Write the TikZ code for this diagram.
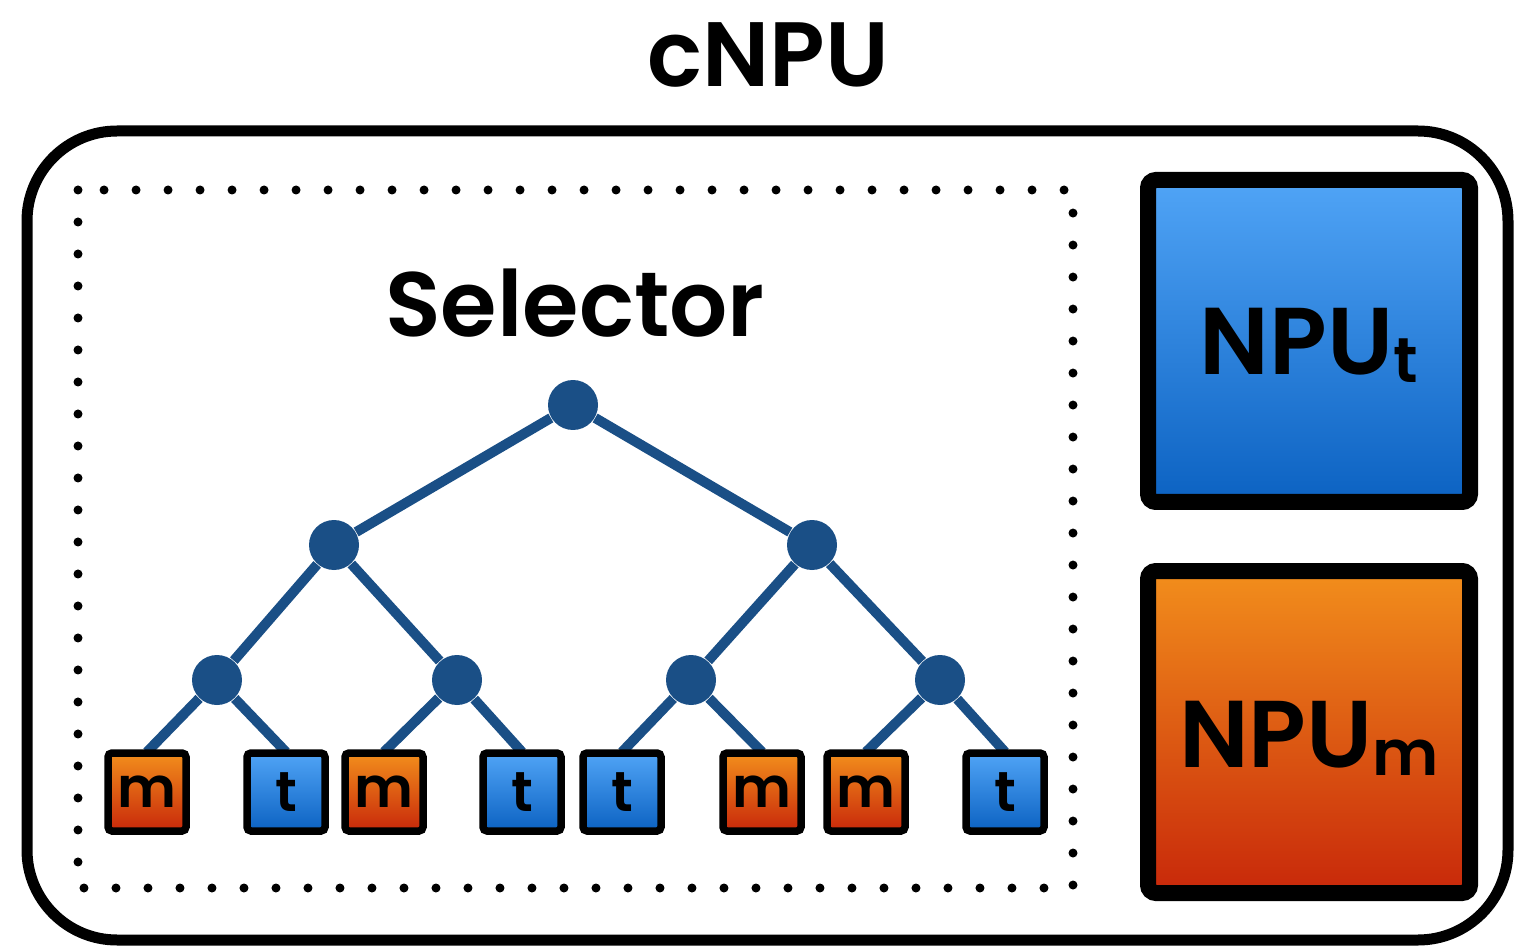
\documentclass[tikz,border=0pt]{standalone}
\usepackage{fontspec}
\setmainfont{Poppins}[BoldFont={Poppins SemiBold}]
\usetikzlibrary{positioning}

\definecolor{treeblue}{RGB}{26,79,134}
\definecolor{tblue}{RGB}{80,164,246}
\definecolor{bblue}{RGB}{12,98,194}
\definecolor{torange}{RGB}{242,142,28}
\definecolor{borange}{RGB}{200,40,10}

\newcommand{\subidx}[1]{\raisebox{-0.15ex}{\fontsize{18}{18}\selectfont #1}}

\tikzset{
    knot/.style={circle, fill=treeblue, inner sep=0pt, minimum size=5mm},
    branch/.style={treeblue, line width=1mm},
    leafbox/.style={draw=black, line width=0.75mm, rounded corners=0.4mm,
        minimum size=7.8mm, inner sep=0pt, font=\fontsize{16}{16}\selectfont\bfseries},
    mleaf/.style={leafbox, top color=torange, bottom color=borange},
    tleaf/.style={leafbox, top color=tblue, bottom color=bblue},
    npubox/.style={draw=black, line width=1.6mm, rounded corners=0.8mm,
        minimum size=32.2mm, inner sep=0pt, font=\fontsize{27}{28}\selectfont\bfseries},
    bigtitle/.style={font=\fontsize{26}{28}\selectfont\bfseries}
}

\begin{document}
\begin{tikzpicture}[x=0.1mm, y=-0.1mm]
    \useasboundingbox (0,0) rectangle (1525,949);

    % Rahmen und Titel
    \node[bigtitle] (title) at (768,55) {cNPU};
    \draw[line width=1.1mm, rounded corners=9mm] (27,131) rectangle (1508,940);
    \draw[line width=0.9mm, line cap=round, dash pattern=on 0pt off 3.2mm]
        (78,190) rectangle (1073,888);
    \node[bigtitle] (sel) at (575,303) {Selector};

    % Baum
    \node[knot] (r)   at (573,405) {};
    \node[knot] (a)   at (334,545) {};
    \node[knot] (b)   at (812,545) {};
    \node[knot] (aa)  at (217,680) {};
    \node[knot] (ab)  at (457,680) {};
    \node[knot] (ba)  at (691,680) {};
    \node[knot] (bb)  at (940,680) {};

    % Kanten (zuerst, damit die Blaetter darueber liegen)
    \draw[branch] (r) -- (a);
    \draw[branch] (r) -- (b);
    \draw[branch] (a) -- (aa);
    \draw[branch] (a) -- (ab);
    \draw[branch] (b) -- (ba);
    \draw[branch] (b) -- (bb);
    \coordinate (e1) at (147,752);
    \coordinate (e2) at (286,752);
    \coordinate (e3) at (384,752);
    \coordinate (e4) at (522,752);
    \coordinate (e5) at (622,752);
    \coordinate (e6) at (762,752);
    \coordinate (e7) at (866,752);
    \coordinate (e8) at (1005,752);
    \draw[branch] (aa) -- (e1);
    \draw[branch] (aa) -- (e2);
    \draw[branch] (ab) -- (e3);
    \draw[branch] (ab) -- (e4);
    \draw[branch] (ba) -- (e5);
    \draw[branch] (ba) -- (e6);
    \draw[branch] (bb) -- (e7);
    \draw[branch] (bb) -- (e8);

    % Blaetter
    \node[mleaf] (l1) at (147,792) {m};
    \node[tleaf] (l2) at (286,792) {t};
    \node[mleaf] (l3) at (384,792) {m};
    \node[tleaf] (l4) at (522,792) {t};
    \node[tleaf] (l5) at (622,792) {t};
    \node[mleaf] (l6) at (762,792) {m};
    \node[mleaf] (l7) at (866,792) {m};
    \node[tleaf] (l8) at (1005,792) {t};

    % NPUs
    \node[npubox, top color=tblue, bottom color=bblue] (npt) at (1309,341) {};
    \node[bigtitle, font=\fontsize{27}{28}\selectfont\bfseries] (nptl) at (1309,345) {NPU\subidx{t}};
    \node[npubox, top color=torange, bottom color=borange] (npm) at (1309,732) {};
    \node[bigtitle, font=\fontsize{27}{28}\selectfont\bfseries] (npml) at (1309,738) {NPU\subidx{m}};
\end{tikzpicture}
\end{document}
